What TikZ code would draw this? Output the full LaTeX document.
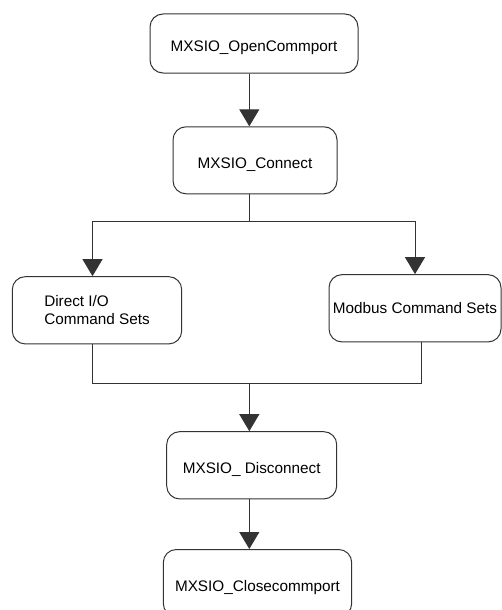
\documentclass[tikz,border=0pt]{standalone}
\usepackage{fontspec}
\setmainfont{Liberation Sans}
\usetikzlibrary{arrows.meta}
\definecolor{linegray}{HTML}{333333}
\tikzset{
	stepbox/.style={draw=linegray,line width=1pt,rounded corners=13pt,inner sep=0pt,font=\fontsize{15.3}{17.7}\selectfont},
	mainbox/.style={stepbox,text height=16pt,text depth=0pt},
	flow/.style={draw=linegray,line width=1pt},
	flowarrow/.style={flow,-{Triangle[width=20pt,length=17pt]}}
}
\begin{document}
\begin{tikzpicture}[x=1pt,y=-1pt]
		\useasboundingbox (0,0) rectangle (501,610); %page size
		
		\node[mainbox,minimum width=208pt,minimum height=59pt]	(open)    at (254,43.5)  {MXSIO\_OpenCommport}; %top box
		\node[mainbox,minimum width=164pt,minimum height=67pt]	(connect) at (255,160.3) {MXSIO\_Connect}; %second box
		\node[stepbox,minimum width=169.4pt,minimum height=67.3pt,align=left] (direct) at (97,310.3) {Direct I/O\\Command Sets}; %left branch
		\node[stepbox,minimum width=172pt,minimum height=67.3pt] (modbus)  at (415,308.3) {Modbus Command Sets}; %right branch
		\node[mainbox,minimum width=170pt,minimum height=67.3pt] (disconnect) at (251.7,465.3) {MXSIO\_ Disconnect}; %fourth box
		\node[mainbox,minimum width=188.4pt,minimum height=67pt] (close)   at (257.5,583) {MXSIO\_Closecommport}; %bottom box
		
		\coordinate (spine) at (249.3,0);  %main vertical line
		\coordinate (split) at (249.3,221); %fork
		\coordinate (join)  at (249.3,383); %merge
		\coordinate (dleg)  at (92.5,0);   %left leg
		\coordinate (mleg)  at (421.7,0);  %right leg below modbus
		
		\draw[flowarrow] (open.south -| spine) -- (connect.north -| spine);
		\draw[flow] (connect.south -| spine) -- (split);
		\draw[flowarrow] (split) -| (direct.north -| dleg); %to left box
		\draw[flowarrow] (split) -| (modbus.north); %to right box
		\draw[flow] (direct.south -| dleg) |- (join);
		\draw[flow] (modbus.south -| mleg) |- (join);
		\draw[flowarrow] (join) -- (disconnect.north -| join);
		\draw[flowarrow] (disconnect.south -| spine) -- (close.north -| spine);
\end{tikzpicture}
\end{document}
